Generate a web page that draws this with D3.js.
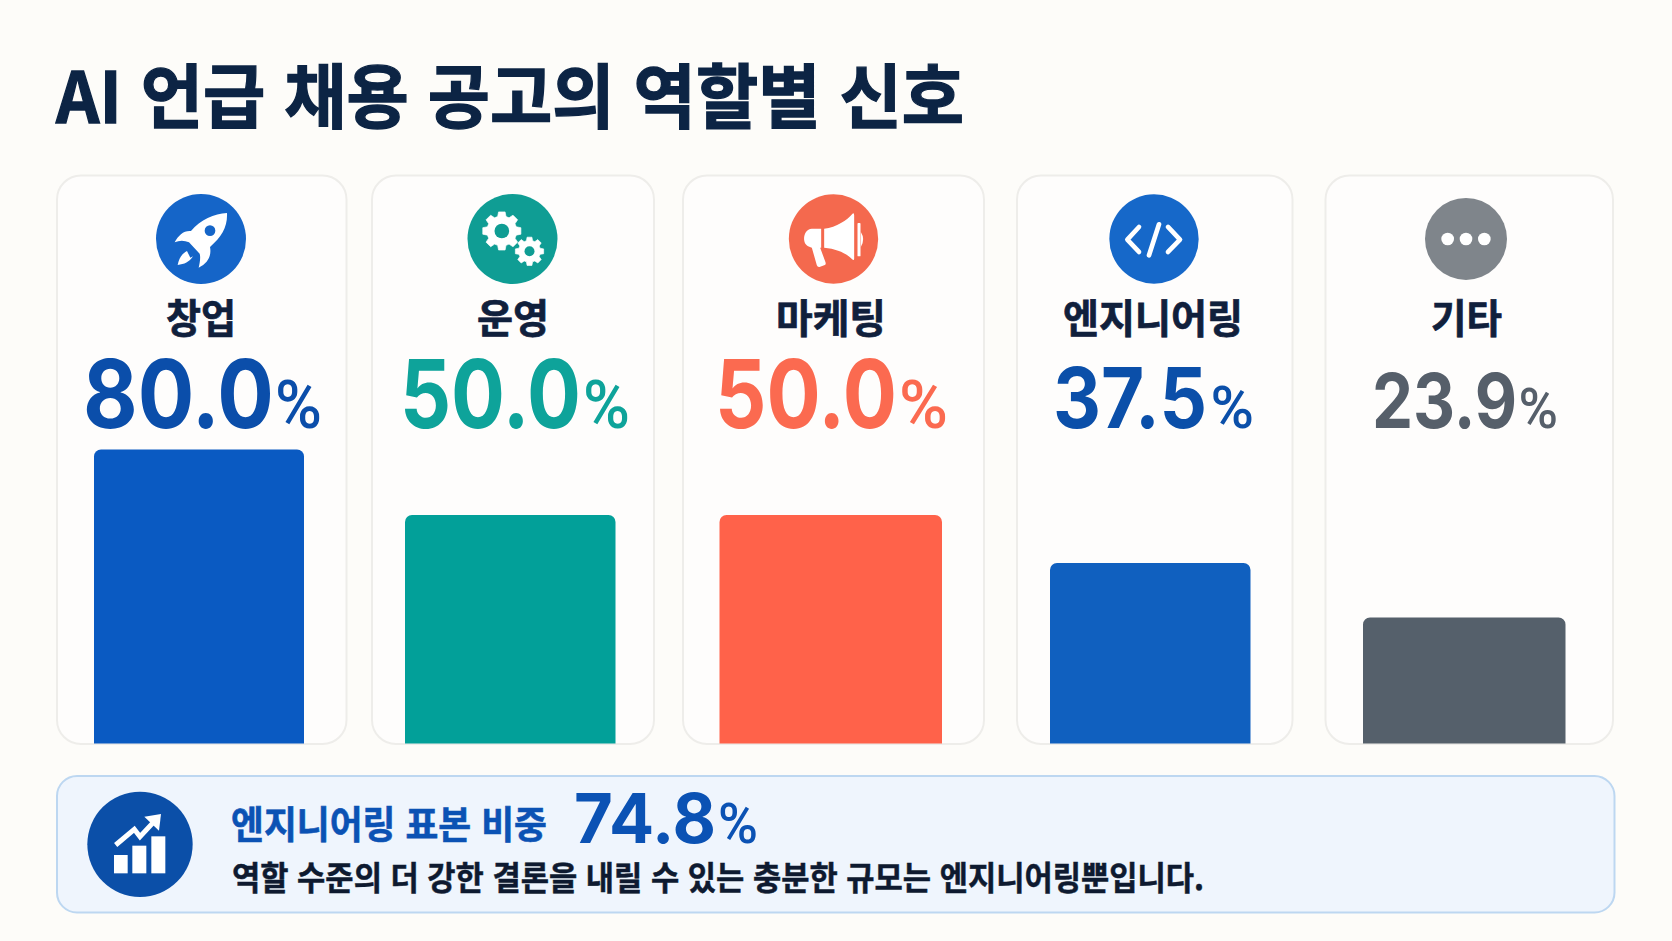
<!DOCTYPE html>
<html lang="ko">
<head>
<meta charset="utf-8">
<script src="https://cdn.jsdelivr.net/npm/d3@7"></script>
<style>
html,body{margin:0;padding:0;background:#fdfcf9;}
svg{display:block;}
text{font-family:"Noto Sans CJK KR","Noto Sans",sans-serif;}
text.pc{font-family:Roboto,"Noto Sans",sans-serif;}
text.num{font-family:Inter,Roboto,sans-serif;}
</style>
</head>
<body>
<div id="chart"></div>
<script>
// ---- data ----
const categories = ["창업", "운영", "마케팅", "엔지니어링", "기타"];
const shares = [80.0, 50.0, 50.0, 37.5, 23.9];
const titleText = "AI 언급 채용 공고의 역할별 신호";
const calloutLabel = "엔지니어링 표본 비중";
const calloutValue = 74.8;
const calloutNote = "역할 수준의 더 강한 결론을 내릴 수 있는 충분한 규모는 엔지니어링뿐입니다.";

// ---- layout + style (kept apart from the data) ----
const W = 1672, H = 941;
const cardEdges   = [[57, 346.5], [372, 654], [683, 984], [1017, 1292.5], [1325.5, 1613]];
const barEdges    = [[94, 304], [405, 615.5], [719.5, 942], [1050, 1250.5], [1363, 1565.5]];
const iconCentres = [201, 512.5, 833.5, 1154, 1466];
const labelSpans  = [[166, 236], [477, 549], [776, 886], [1063, 1243], [1431, 1502]];
const numberSpans = [[83, 274], [400, 581], [715, 897], [1053, 1207], [1372, 1517]];
const pctSpans    = [[275, 322], [583, 630], [899, 948], [1210.5, 1254], [1518.5, 1558]];
const numberSizes = [95, 95, 95, 84, 76];
const pctSizes    = [67, 67, 67, 60, 56];
const barColours  = ["#0a5ac2", "#02a099", "#ff624a", "#1060bf", "#55606b"];
const iconColours = ["#1565c8", "#0f9d94", "#f4694e", "#1668c9", "#7f858b"];
const textColours = ["#0b4eaa", "#0ea39a", "#fb6a50", "#0b4fa9", "#565f6a"];
const ink = "#0c2444", labelInk = "#10203c", noteInk = "#0e1a30", calloutBlue = "#0b52b4";

const svg = d3.select("#chart").append("svg").attr("width", W).attr("height", H).attr("viewBox", `0 0 ${W} ${H}`);
svg.append("rect").attr("width", W).attr("height", H).attr("fill", "#fdfcf9");

const barBase = 743.5;
// The reference's bar heights are not proportional, so the scale follows them piece by piece.
const yScale = d3.scaleLinear().domain([0, 23.9, 37.5, 50, 80]).range([barBase, 617.5, 563, 515, 449.5]);
const xLeft  = d3.scaleOrdinal().domain(categories).range(barEdges.map(d => d[0]));
const xRight = d3.scaleOrdinal().domain(categories).range(barEdges.map(d => d[1]));
const pct = d3.format(".1f");

function put(parent, str, x0, x1, base, size, weight, fill, heavy, cls) {
  return parent.append("text").attr("class", cls || null).attr("x", x0).attr("y", base)
    .attr("textLength", x1 - x0).attr("lengthAdjust", "spacingAndGlyphs")
    .attr("font-size", size).attr("font-weight", weight).attr("fill", fill)
    .attr("stroke", heavy ? fill : null).attr("stroke-width", heavy || null).text(str);
}
// numerals are narrowed to their span as a whole, so that their box stays true
function putNumber(parent, str, x0, x1, base, size, fill) {
  const t = parent.append("text").attr("class", "num")
    .attr("font-size", size).attr("font-weight", 700).attr("fill", fill).text(str);
  const natural = t.node().getComputedTextLength();
  t.attr("transform", `translate(${x0},${base}) scale(${(x1 - x0) / natural},1)`);
  return t;
}

put(svg, titleText, 56, 964, 123, 70, 700, ink, 1.3);

function barPath(l, r, t, b, rad) {
  const p = d3.path();
  p.moveTo(l, b); p.lineTo(l, t + rad);
  p.arcTo(l, t, l + rad, t, rad); p.lineTo(r - rad, t);
  p.arcTo(r, t, r, t + rad, rad); p.lineTo(r, b); p.closePath();
  return p.toString();
}

function gearPath(cx, cy, ro, ri, teeth) {
  const pts = [];
  const step = 2 * Math.PI / teeth;
  for (let i = 0; i < teeth; i++) {
    const a = i * step - Math.PI / 2;
    [[-0.5, ri], [-0.3, ro], [0.3, ro], [0.5, ri]].forEach(([f, r]) => {
      pts.push([cx + r * Math.cos(a + f * step * 0.72), cy + r * Math.sin(a + f * step * 0.72)]);
    });
  }
  return "M" + pts.map(p => p.join(",")).join("L") + "Z";
}

// icon glyphs are drawn in a 300-unit box, 3 units to the pixel
const glyphs = [
  g => {
    g.append("path").attr("fill", "#fff").attr("d", "M228,68C190,70 148,88 120,122C98,120 82,135 71,156C85,150 100,150 114,156L146,190C149,200 147,215 143,232C172,218 182,195 177,170C212,140 230,110 228,68Z");
    g.append("circle").attr("cx", 177).attr("cy", 121).attr("r", 16).attr("fill", iconColours[0]);
    g.append("path").attr("fill", "#fff").attr("d", "M108,182C92,190 84,205 80,224C100,222 115,215 126,198L118,202L112,190Z");
  },
  g => {
    [[118, 122, 58, 45, 22], [201, 183, 43, 33, 15]].forEach(([x, y, o, i, h]) => {
      g.append("path").attr("fill", "#fff").attr("stroke", "#fff").attr("stroke-width", 2).attr("stroke-linejoin", "round").attr("d", gearPath(x, y, o, i, 8));
      g.append("circle").attr("cx", x).attr("cy", y).attr("r", h).attr("fill", iconColours[1]);
    });
  },
  g => {
    g.append("path").attr("fill", "#fff").attr("d", "M122,115C160,110 190,90 207,70Q212,67 212,75L212,205Q212,213 205,206C190,190 160,175 122,172Z");
    g.append("path").attr("fill", "#fff").attr("d", "M113,115L85,115C68,115 60,135 62,150C64,165 75,170 85,172L100,225Q102,231 108,230L124,224Q128,222 126,216L110,172L113,172Z");
    g.append("rect").attr("x", 222).attr("y", 98).attr("width", 9).attr("height", 100).attr("rx", 2).attr("fill", "#fff");
    g.append("path").attr("fill", "#fff").attr("d", "M232,125Q246,147 232,170Z");
  },
  g => {
    const s = g.append("g").attr("fill", "none").attr("stroke", "#fff").attr("stroke-width", 14).attr("stroke-linecap", "round").attr("stroke-linejoin", "round");
    s.append("path").attr("d", "M105,110L70,148L105,185");
    s.append("path").attr("d", "M192,110L228,148L192,185");
    s.append("path").attr("d", "M165,102L135,195");
  },
  g => {
    [95, 150, 205].forEach(x => g.append("circle").attr("cx", x).attr("cy", 146).attr("r", 19).attr("fill", "#fff"));
  }
];
const iconCircleCy = [146, 146, 146, 146, 146], iconCircleR = [135, 135, 134, 134, 123];

const cards = svg.selectAll("g.card").data(categories).join("g").attr("class", "card");
cards.each(function (cat, i) {
  const g = d3.select(this);
  const [l, r] = cardEdges[i];
  g.append("rect").attr("x", l).attr("y", 175.5).attr("width", r - l).attr("height", 568.5).attr("rx", 24)
    .attr("fill", "#fefdfc").attr("stroke", "#eeedea").attr("stroke-width", 2);
  const v = shares[i];
  g.append("path").attr("fill", barColours[i])
    .attr("d", barPath(xLeft(cat), xRight(cat), yScale(v), yScale(0), 7));
  const ic = g.append("g").attr("transform", `translate(${iconCentres[i] - 50},190.3) scale(${1 / 3})`);
  ic.append("circle").attr("cx", 150).attr("cy", iconCircleCy[i]).attr("r", iconCircleR[i]).attr("fill", iconColours[i]);
  glyphs[i](ic);
  put(g, cat, labelSpans[i][0], labelSpans[i][1], 332.5, 40, 700, labelInk, 0.7);
  putNumber(g, pct(v), numberSpans[i][0], numberSpans[i][1], 428, numberSizes[i], textColours[i]);
  put(g, "%", pctSpans[i][0], pctSpans[i][1], 428, pctSizes[i], 500, textColours[i], 0, "pc");
});

// callout
const co = svg.append("g");
co.append("rect").attr("x", 57).attr("y", 776).attr("width", 1557.5).attr("height", 136.5).attr("rx", 20)
  .attr("fill", "#eff5fd").attr("stroke", "#bdd7f1").attr("stroke-width", 2);
const ci = co.append("g").attr("transform", "translate(85,790) scale(" + (1 / 3) + ")");
ci.append("circle").attr("cx", 165).attr("cy", 163).attr("r", 158).attr("fill", "#0b4fa8");
ci.selectAll("rect").data([[87, 195, 41, 55], [142, 167, 42, 83], [199, 139, 42, 111]]).join("rect")
  .attr("x", d => d[0]).attr("y", d => d[1]).attr("width", d => d[2]).attr("height", d => d[3]).attr("fill", "#fff");
ci.append("path").attr("d", "M92,165L148,118L165,140L205,97").attr("fill", "none").attr("stroke", "#fff").attr("stroke-width", 15).attr("stroke-linejoin", "miter");
ci.append("path").attr("d", "M178,80L228,72L222,122Z").attr("fill", "#fff");

put(co, calloutLabel, 231, 547, 837.5, 38, 700, calloutBlue, 0.6);
putNumber(co, pct(calloutValue), 574, 716, 843, 69, calloutBlue);
put(co, "%", 718, 758, 843, 56, 500, calloutBlue, 0, "pc");
put(co, calloutNote, 232, 1204, 890, 33, 700, noteInk, 0.5);
</script>
</body>
</html>
